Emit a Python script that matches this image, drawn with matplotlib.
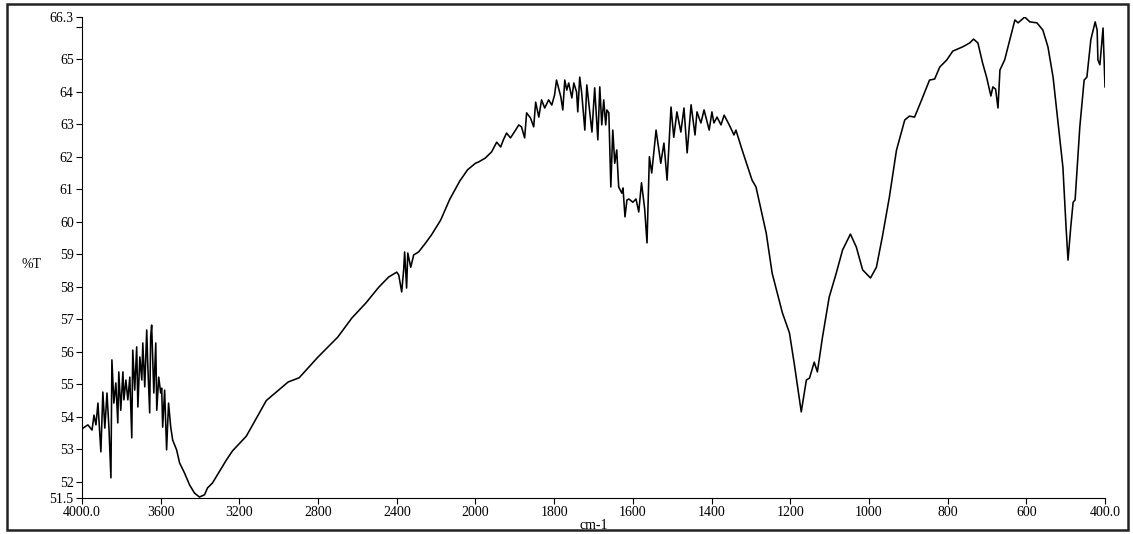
import numpy as np
import matplotlib
matplotlib.use('Agg')
from matplotlib import pyplot as plt
from matplotlib.patches import Rectangle

# FTIR spectrum (wavenumber cm-1, %T)
wavenumber = [
    4000, 3995, 3970, 3949, 3939, 3929, 3919, 3904, 3894, 3884, 3873, 3863,
    3853, 3848, 3838, 3828, 3818, 3813, 3803, 3792, 3787, 3777, 3767, 3757,
    3747, 3742, 3732, 3722, 3716, 3706, 3696, 3691, 3681, 3671, 3666, 3656,
    3651, 3646, 3635, 3625, 3620, 3610, 3600, 3595, 3590, 3580, 3570, 3560,
    3549, 3539, 3519, 3504, 3479, 3453, 3428, 3403, 3377, 3362, 3337, 3266,
    3235, 3165, 3063, 2952, 2896, 2800, 2700, 2628, 2557, 2491, 2441, 2400,
    2390, 2375, 2365, 2360, 2350, 2344, 2329, 2314, 2289, 2253, 2223, 2177,
    2130, 2080, 2040, 2000, 1992, 1975, 1959, 1946, 1936, 1929, 1921, 1911,
    1898, 1890, 1883, 1875, 1870, 1860, 1852, 1847, 1839, 1832, 1824, 1814,
    1806, 1799, 1794, 1783, 1778, 1773, 1768, 1763, 1755, 1750, 1743, 1740,
    1735, 1730, 1722, 1717, 1710, 1704, 1697, 1689, 1684, 1679, 1674, 1669,
    1666, 1661, 1656, 1651, 1646, 1641, 1636, 1628, 1625, 1620, 1615, 1610,
    1600, 1592, 1585, 1578, 1570, 1564, 1558, 1552, 1541, 1529, 1521, 1513,
    1503, 1496, 1488, 1478, 1470, 1462, 1452, 1442, 1437, 1427, 1419, 1406,
    1399, 1394, 1386, 1376, 1368, 1355, 1343, 1338, 1322, 1297, 1287, 1261,
    1246, 1220, 1202, 1190, 1172, 1159, 1151, 1139, 1131, 1118, 1101, 1083,
    1067, 1047, 1032, 1016, 996, 981, 966, 948, 930, 909, 897, 884, 866, 846,
    833, 820, 802, 787, 762, 744, 734, 723, 711, 701, 690, 685, 678, 672, 667,
    655, 642, 629, 621, 604, 591, 573, 558, 545, 532, 520, 507, 499, 494, 487,
    481, 476, 464, 453, 446, 436, 425, 420, 418, 413, 405, 400,
]
transmittance = [
    53.6, 53.65, 53.75, 53.59, 54.05, 53.75, 54.42, 52.92, 54.76, 53.65, 54.73, 53.65,
    52.12, 55.75, 54.42, 55.04, 53.81, 55.38, 54.2, 55.38, 54.52, 55.13, 54.52, 55.22,
    53.35, 56.05, 54.82, 56.15, 54.3, 55.84, 55.13, 56.27, 54.92, 56.67, 55.65, 54.12,
    56.45, 56.82, 54.73, 56.27, 54.2, 55.22, 54.73, 54.88, 53.68, 54.82, 52.98, 54.42,
    53.68, 53.28, 52.98, 52.58, 52.27, 51.9, 51.65, 51.53, 51.6, 51.81, 51.96, 52.67,
    52.95, 53.4, 54.5, 55.07, 55.2, 55.84, 56.45, 57.04, 57.5, 57.99, 58.3, 58.45,
    58.36, 57.84, 58.52, 59.07, 57.96, 59.04, 58.6, 58.98, 59.07, 59.35, 59.6, 60.05,
    60.7, 61.25, 61.6, 61.8, 61.84, 61.96, 62.15, 62.45, 62.3, 62.52, 62.73, 62.58,
    62.82, 62.98, 62.92, 62.58, 63.35, 63.19, 62.92, 63.68, 63.22, 63.75, 63.5, 63.75,
    63.59, 63.9, 64.36, 63.84, 63.44, 64.36, 64.05, 64.27, 63.81, 64.27, 63.99, 63.38,
    64.45, 63.96, 62.82, 64.21, 63.44, 62.76, 64.12, 62.52, 64.15, 62.98, 63.75, 62.98,
    63.44, 63.35, 61.07, 62.82, 61.8, 62.21, 61.07, 60.88, 61.04, 60.15, 60.67, 60.7,
    60.6, 60.7, 60.3, 61.2, 60.4, 59.35, 62.0, 61.5, 62.82, 61.8, 62.42, 61.28,
    63.53, 62.6, 63.38, 62.76, 63.5, 62.12, 63.6, 62.67, 63.38, 63.04, 63.44, 62.82,
    63.38, 63.04, 63.22, 62.98, 63.28, 62.98, 62.67, 62.82, 62.2, 61.28, 61.07, 59.65,
    58.42, 57.2, 56.58, 55.65, 54.15, 55.13, 55.19, 55.68, 55.38, 56.45, 57.68, 58.42,
    59.13, 59.62, 59.22, 58.52, 58.27, 58.6, 59.53, 60.76, 62.2, 63.13, 63.25, 63.22, 63.75, 64.36,
    64.39, 64.76, 64.98, 65.25, 65.38, 65.5, 65.62, 65.5, 64.88, 64.45, 63.87, 64.15, 64.08, 63.5, 64.67,
    64.98, 65.6, 66.21, 66.12, 66.3, 66.15, 66.12, 65.9, 65.38, 64.45, 63.13, 61.68, 59.84, 58.82, 59.84,
    60.6, 60.67, 62.92, 64.36, 64.45, 65.6, 66.15, 65.9, 64.98, 64.83, 65.96, 64.15,
]

xticks = [4000, 3600, 3200, 2800, 2400, 2000, 1800, 1600, 1400, 1200, 1000, 800, 600, 400]
xlabels = ['4000.0', '3600', '3200', '2800', '2400', '2000', '1800', '1600', '1400',
           '1200', '1000', '800', '600', '400.0']
yticks = [51.5, 52, 53, 54, 55, 56, 57, 58, 59, 60, 61, 62, 63, 64, 65, 66, 66.3]
ylabels = ['51.5', '52', '53', '54', '55', '56', '57', '58', '59', '60', '61', '62',
           '63', '64', '65', '', '66.3']


# x axis is expanded 2x below 2000 cm-1, as on the instrument printout
def fwd(x):
    x = np.asarray(x, dtype=float)
    return np.where(x >= 2000, x, 2 * x - 2000)


def inv(t):
    t = np.asarray(t, dtype=float)
    return np.where(t >= 2000, t, (t + 2000) / 2)


plt.rcParams['font.family'] = ['Liberation Serif', 'DejaVu Serif']

fig = plt.figure(figsize=(11.33, 5.34), dpi=100)
ax = fig.add_axes([82 / 1133, 1 - 498 / 534, (1105 - 82) / 1133, (498 - 17) / 534])

ax.plot(wavenumber, transmittance, color='black', lw=1.15)

ax.set_xscale('function', functions=(fwd, inv))
ax.set_xlim(4000, 400)
ax.set_ylim(51.5, 66.3)
ax.set_xticks(xticks)
ax.set_xticklabels(xlabels)
ax.set_yticks(yticks)
ax.set_yticklabels(ylabels)
ax.minorticks_off()
ax.tick_params(labelsize=10, length=4, width=0.8, pad=2)

for s in ['top', 'right']:
    ax.spines[s].set_visible(False)

ax.set_xlabel('cm-1', fontsize=10, labelpad=0)
fig.text(32 / 1133, 1 - 265 / 534, '%T', fontsize=10, ha='center', va='center')

# frame around the whole printout
fig.patches.append(Rectangle((7 / 1133, 4 / 534), 1121 / 1133, 526 / 534,
                             transform=fig.transFigure, fill=False,
                             edgecolor='#222222', lw=1.8))

fig.savefig('out.png', dpi=100)
